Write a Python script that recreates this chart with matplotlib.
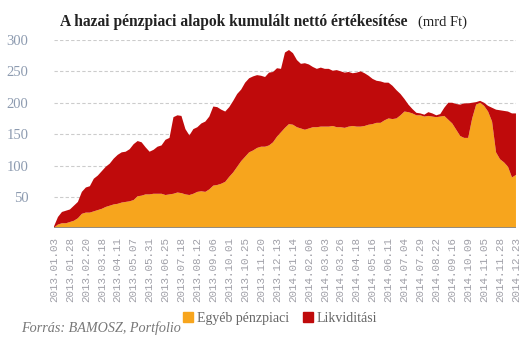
import numpy as np
import matplotlib
matplotlib.use('Agg')
import matplotlib.pyplot as plt
from matplotlib.patches import Patch

# data (mrd Ft), one sample per ~1/4 tick interval
egyeb = [1, 6, 8, 8, 10, 12, 16, 23, 25, 25,
         27, 29, 31, 34, 36, 38, 39, 41, 42, 43,
         45, 51, 52, 54, 54, 55, 55, 55, 53, 54,
         55, 57, 56, 54, 53, 55, 58, 59, 58, 62,
         68, 69, 71, 74, 82, 89, 98, 107, 114, 121,
         124, 128, 130, 130, 132, 137, 146, 153, 160, 166,
         165, 161, 159, 157, 159, 161, 161, 162, 162, 162,
         163, 161, 161, 160, 162, 163, 162, 162, 163, 165,
         166, 168, 168, 172, 175, 174, 175, 180, 186, 185,
         183, 180, 180, 178, 179, 178, 177, 178, 179, 173,
         167, 157, 147, 144, 144, 175, 197, 200, 195, 186,
         170, 121, 110, 105, 98, 81, 85]
likviditasi = [2, 12, 18, 20, 20, 24, 26, 35, 40, 42,
               52, 55, 60, 64, 67, 73, 78, 80, 80, 83,
               89, 88, 85, 75, 68, 70, 75, 77, 88, 90,
               122, 123, 123, 104, 95, 103, 103, 108, 112, 116,
               126, 124, 118, 112, 111, 114, 116, 114, 118, 118,
               118, 116, 113, 111, 116, 112, 109, 101, 120, 118,
               114, 107, 103, 106, 102, 96, 93, 94, 92, 92,
               88, 91, 89, 88, 87, 84, 86, 88, 84, 78,
               72, 67, 66, 60, 57, 53, 45, 34, 20, 12,
               7, 4, 3, 3, 6, 5, 3, 4, 13, 27,
               33, 41, 50, 55, 55, 25, 4, 3, 5, 9,
               22, 68, 78, 82, 88, 102, 98]
tick_labels = ['2013.01.03', '2013.01.28', '2013.02.20', '2013.03.18', '2013.04.11',
               '2013.05.07', '2013.05.31', '2013.06.25', '2013.07.18', '2013.08.12',
               '2013.09.06', '2013.10.01', '2013.10.25', '2013.11.20', '2013.12.13',
               '2014.01.14', '2014.02.06', '2014.03.03', '2014.03.26', '2014.04.18',
               '2014.05.16', '2014.06.11', '2014.07.04', '2014.07.29', '2014.08.22',
               '2014.09.16', '2014.10.09', '2014.11.05', '2014.11.28', '2014.12.23']
series_names = ['Egyéb pénzpiaci', 'Likviditási']
colors = ['#F7A51D', '#BF0A0B']

x = np.arange(len(egyeb))

fig = plt.figure(figsize=(5.31, 3.42), dpi=100)
ax = fig.add_axes([0.1017, 0.3325, 0.8700, 0.5506])

ax.stackplot(x, egyeb, likviditasi, colors=colors, linewidth=0)

ax.set_xlim(0, len(egyeb) - 1)
ax.set_ylim(0, 300)
ax.set_yticks([50, 100, 150, 200, 250, 300])
for v in [50, 100, 150, 200, 250, 300]:
    ax.axhline(v, color='#cccccc', lw=0.8, ls=(0, (3, 2)), zorder=0)
ax.axhline(0, color='#8a8a8a', lw=2, zorder=3)

ax.set_xticks(x[::4])
ax.set_xticklabels(tick_labels, rotation=90, fontsize=7.8, color='#a0a0a8',
                   family='Liberation Mono')
ax.tick_params(axis='x', length=0, pad=6)
ax.tick_params(axis='y', length=0, pad=18.5, labelsize=10.5, labelcolor='#8d9bb0')
for lab in ax.get_yticklabels():
    lab.set_family('Liberation Serif')

for s in ax.spines.values():
    s.set_visible(False)

fig.text(0.113, 0.935, 'A hazai pénzpiaci alapok kumulált nettó értékesítése',
         fontsize=11.2, fontweight='bold', color='#222222', family='Liberation Serif',
         va='center')
fig.text(0.787, 0.935, '(mrd Ft)', fontsize=10.5, color='#222222',
         family='Liberation Serif', va='center')

handles = [Patch(color=c, label=n) for c, n in zip(colors, series_names)]
fig.legend(handles=handles, loc='center', bbox_to_anchor=(0.528, 0.07), ncol=2,
           frameon=False, handlelength=0.7, handleheight=0.7, handletextpad=0.3,
           columnspacing=1.0, prop={'family': 'Liberation Serif', 'size': 10},
           labelcolor='#666666')

fig.text(0.04, 0.04, 'Forrás: BAMOSZ, Portfolio', fontsize=10.2, style='italic',
         color='#777777', family='Liberation Serif', va='center')

fig.savefig('out.png', dpi=100)
